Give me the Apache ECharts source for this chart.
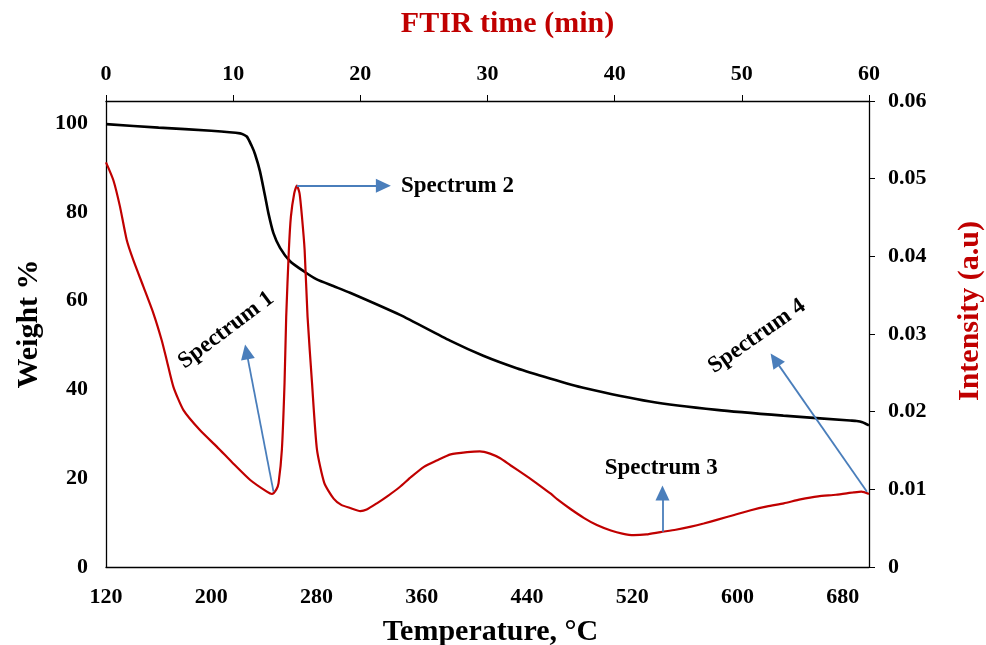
<!DOCTYPE html>
<html>
<head>
<meta charset="utf-8">
<script src="https://cdn.jsdelivr.net/npm/echarts@6/dist/echarts.min.js"></script>
<style>
  html, body { margin: 0; padding: 0; background: #fff; }
  #chart { width: 986px; height: 645px; }
</style>
</head>
<body>
<div id="chart"></div>
<script>
// TGA curve: weight (%) against temperature (°C)
const tgaTemp = [120, 160, 200, 221.9, 227, 230.7, 233.3, 237, 240.9, 243.4, 247.2, 252.3, 259.9, 270, 280.2, 292.8, 305.5, 343.5, 381.5, 406.8, 432.2, 457.5, 482.8, 533.5, 584.2, 634.9, 685.6, 690.6, 695, 700];
const tgaWeight = [99.8, 99.0, 98.3, 97.7, 97.0, 94.9, 93.0, 89.2, 83.6, 79.8, 75.3, 71.9, 68.9, 66.7, 64.8, 63.3, 61.8, 56.8, 51.0, 47.6, 44.8, 42.5, 40.4, 37.3, 35.4, 34.1, 33.0, 32.9, 32.6, 31.9];

// FTIR total intensity (a.u) against time (min)
const ftirTime = [0, 0.58, 1.10, 1.63, 2.15, 2.94, 3.72, 4.38, 4.78, 5.30, 6.09, 7.40, 8.71, 10.02, 11.34, 12.65, 13.05, 13.40, 13.57, 13.83, 14.04, 14.17, 14.38, 14.54, 14.80, 15.01, 15.22, 15.41, 15.62, 15.85, 16.20, 16.59, 17.17, 17.9, 18.5, 19.2, 20.0, 20.5, 21.3, 22.2, 23.1, 24.0, 25.0, 26.0, 27.1, 28.4, 29.4, 30.2, 31.0, 31.8, 32.9, 33.6, 35.0, 35.5, 36.5, 37.6, 38.6, 39.7, 40.6, 41.5, 42.5, 43.6, 44.8, 46.0, 47.0, 48.1, 49.4, 50.7, 52.0, 53.3, 54.6, 56.0, 57.4, 58.8, 59.4, 60.0];
const ftirIntensity = [0.0521, 0.0498, 0.0464, 0.0421, 0.0395, 0.0361, 0.0327, 0.0292, 0.0266, 0.0232, 0.0202, 0.0176, 0.0155, 0.0133, 0.0112, 0.0097, 0.0094, 0.0100, 0.0108, 0.0151, 0.0237, 0.0322, 0.0408, 0.0451, 0.0481, 0.0491, 0.0481, 0.0451, 0.0408, 0.0322, 0.0237, 0.0151, 0.0108, 0.0088, 0.0080, 0.0076, 0.0072, 0.0074, 0.0082, 0.0092, 0.0103, 0.0116, 0.0129, 0.0137, 0.0145, 0.0148, 0.0149, 0.0146, 0.0140, 0.0131, 0.0119, 0.0111, 0.0094, 0.0087, 0.0075, 0.0063, 0.0054, 0.0047, 0.0043, 0.0041, 0.0042, 0.0045, 0.0048, 0.0052, 0.0056, 0.0061, 0.0067, 0.0073, 0.0078, 0.0082, 0.0087, 0.0091, 0.0093, 0.0096, 0.0097, 0.0094];

// Spectrum call-outs (FTIR time / intensity units)
const spectrumNames = ['Spectrum 1', 'Spectrum 2', 'Spectrum 3', 'Spectrum 4'];
const arrowFrom = [[13.17, 0.0097], [15.01, 0.0491], [43.76, 0.00454], [59.84, 0.0097]];
const arrowTo = [[11.05, 0.0277], [21.81, 0.0491], [43.76, 0.00953], [52.60, 0.0267]];
const labelAt = [[9.45, 0.0305], [27.64, 0.0491], [43.66, 0.01275], [51.18, 0.0297]];
const labelAngle = [37, 0, 0, 35];

const FONT = '"Liberation Serif", "Times New Roman", serif';
const RED = '#C00000';
const BLUE = '#4A7EBB';

const tickLabel = { color: '#000', fontFamily: FONT, fontWeight: 'bold', fontSize: 22 };
const axisLine = { show: true, onZero: false, lineStyle: { color: '#000', width: 1.3 } };

const chart = echarts.init(document.getElementById('chart'), null, { renderer: 'canvas' });

chart.setOption({
  animation: false,
  backgroundColor: '#fff',
  grid: { left: 106, right: 117, top: 101, bottom: 78, containLabel: false, outerBoundsMode: 'none' },
  xAxis: [
    {
      type: 'value', position: 'bottom', min: 120, max: 700, interval: 80,
      axisLine: axisLine, axisTick: { show: false }, splitLine: { show: false },
      axisLabel: Object.assign({ margin: 19, showMaxLabel: false }, tickLabel),
      name: 'Temperature, °C', nameLocation: 'middle', nameGap: 50,
      nameTextStyle: { color: '#000', fontFamily: FONT, fontWeight: 'bold', fontSize: 30, padding: [0, 0, 0, 6] }
    },
    {
      type: 'value', position: 'top', min: 0, max: 60, interval: 10,
      axisLine: axisLine, axisTick: { show: true, inside: false, length: 6, lineStyle: { color: '#000' } },
      splitLine: { show: false },
      axisLabel: Object.assign({ margin: 16 }, tickLabel),
      name: 'FTIR time (min)', nameLocation: 'middle', nameGap: 62,
      nameTextStyle: { color: RED, fontFamily: FONT, fontWeight: 'bold', fontSize: 30, padding: [0, 0, 0, 40] }
    }
  ],
  yAxis: [
    {
      type: 'value', position: 'left', min: 0, max: 105, interval: 20,
      axisLine: axisLine, axisTick: { show: false }, splitLine: { show: false },
      axisLabel: Object.assign({ margin: 18, showMaxLabel: false }, tickLabel),
      name: 'Weight %', nameLocation: 'middle', nameGap: 62, nameRotate: 90,
      nameTextStyle: { color: '#000', fontFamily: FONT, fontWeight: 'bold', fontSize: 30, padding: [0, 0, 0, 20] }
    },
    {
      type: 'value', position: 'right', min: 0, max: 0.06, interval: 0.01,
      axisLine: axisLine, axisTick: { show: true, inside: false, length: 6, lineStyle: { color: '#000' } },
      splitLine: { show: false },
      axisLabel: Object.assign({ margin: 19 }, tickLabel),
      name: 'Intensity (a.u)', nameLocation: 'middle', nameGap: 86, nameRotate: 90,
      nameTextStyle: { color: RED, fontFamily: FONT, fontWeight: 'bold', fontSize: 30, padding: [0, 0, 0, 46] }
    }
  ],
  series: [
    {
      name: 'Weight', type: 'line', xAxisIndex: 0, yAxisIndex: 0,
      data: tgaTemp.map((t, i) => [t, tgaWeight[i]]),
      showSymbol: false, smooth: 0.2, silent: true,
      lineStyle: { color: '#000', width: 2.6 }, z: 3
    },
    {
      name: 'Intensity', type: 'line', xAxisIndex: 1, yAxisIndex: 1,
      data: ftirTime.map((t, i) => [t, ftirIntensity[i]]),
      showSymbol: false, smooth: 0.2, silent: true,
      lineStyle: { color: RED, width: 2.2 }, z: 4,
      markLine: {
        silent: true, animation: false,
        symbol: ['none', 'triangle'], symbolSize: [14, 15],
        label: { show: false },
        lineStyle: { color: BLUE, width: 1.8, type: 'solid' },
        emphasis: { disabled: true },
        data: arrowFrom.map((p, i) => [{ coord: p }, { coord: arrowTo[i] }])
      },
      markPoint: {
        silent: true, animation: false,
        symbol: 'circle', symbolSize: 1,
        itemStyle: { color: 'rgba(0,0,0,0)' },
        data: spectrumNames.map((n, i) => ({
          name: n, coord: labelAt[i],
          label: {
            show: true, position: 'inside', formatter: n, rotate: labelAngle[i],
            color: '#000', fontFamily: FONT, fontWeight: 'bold', fontSize: 23
          }
        }))
      }
    }
  ]
});
</script>
</body>
</html>
